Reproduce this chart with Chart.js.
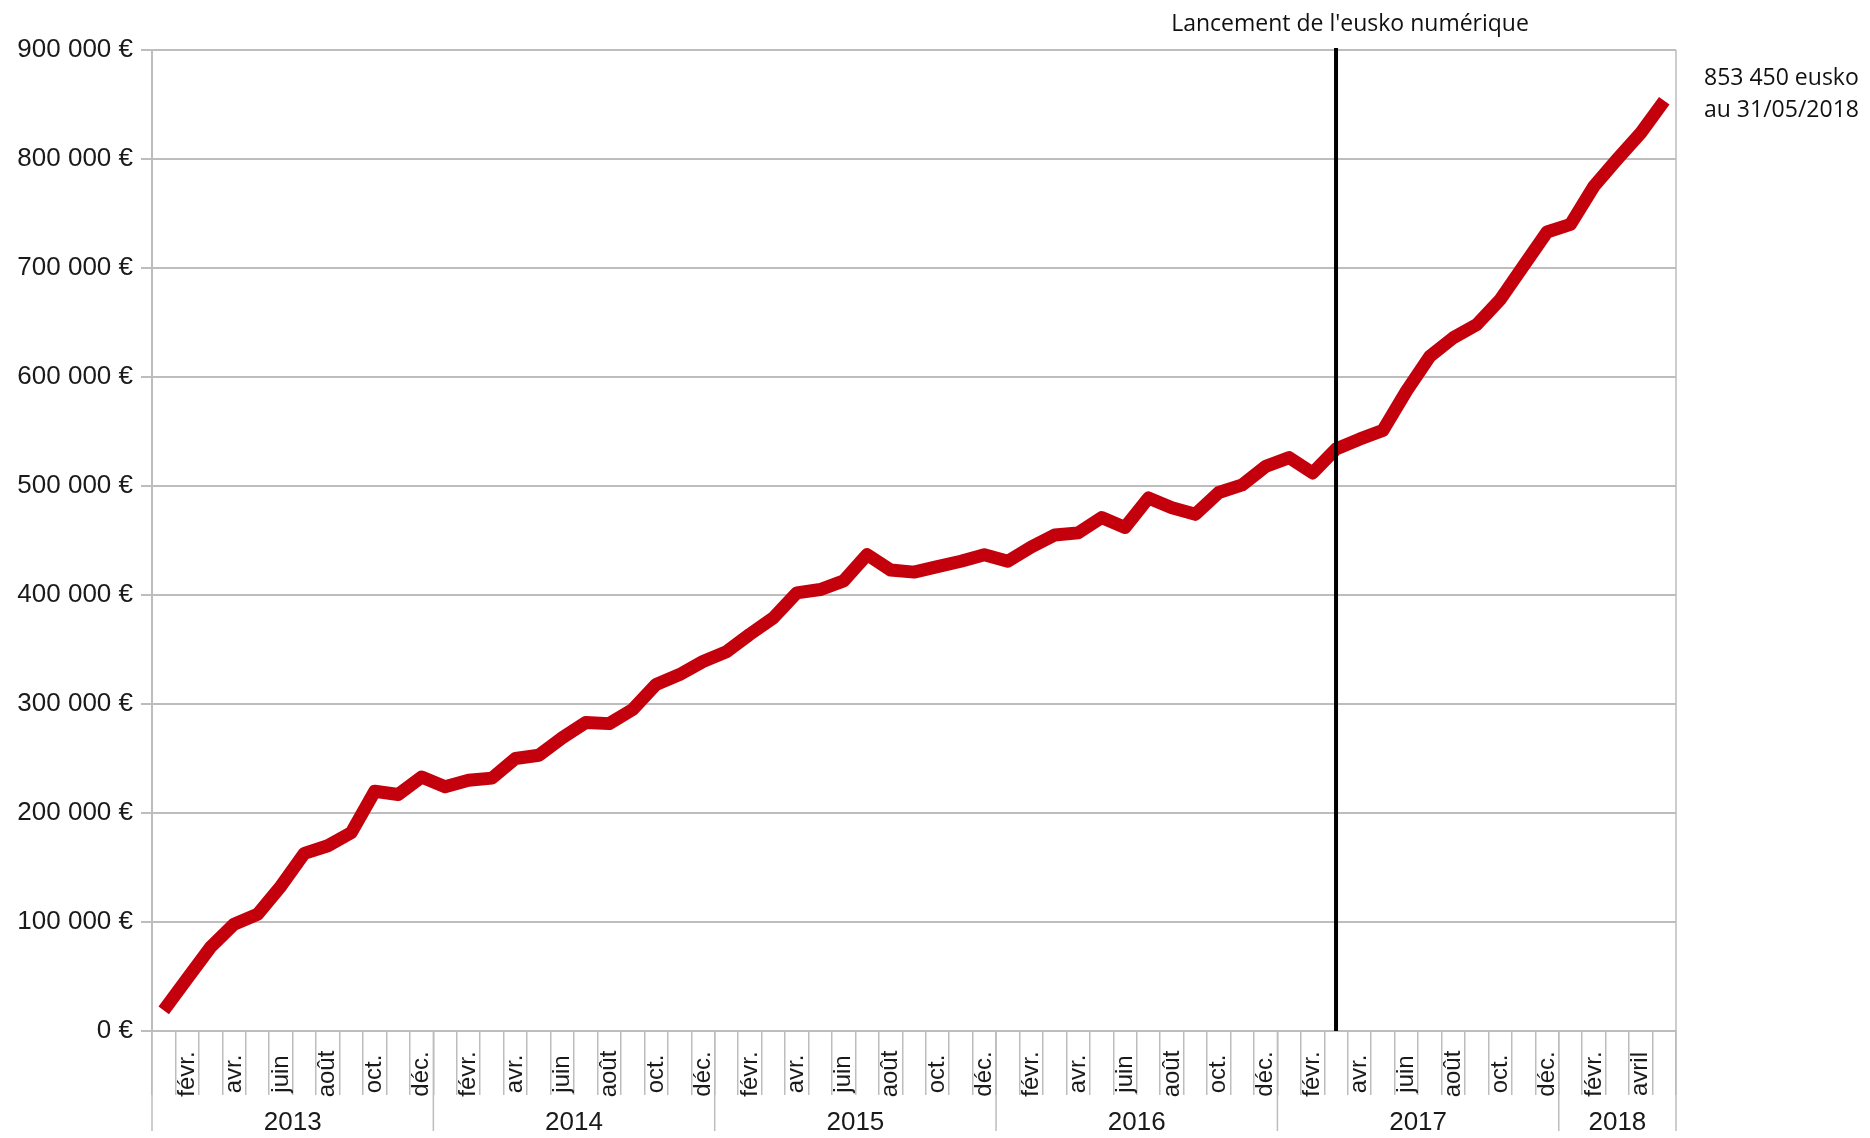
<!DOCTYPE html>
<html>
<head>
<meta charset="utf-8">
<script src="https://cdn.jsdelivr.net/npm/chart.js@4.4.1/dist/chart.umd.min.js"></script>
<style>
  html, body { margin: 0; padding: 0; background: #fff; }
  #wrap { width: 1870px; height: 1138px; }
</style>
</head>
<body>
<div id="wrap"><canvas id="euskoChart" width="1870" height="1138"></canvas></div>
<script>
// Categories
const years = ['2013', '2014', '2015', '2016', '2017', '2018'];
const monthNames = ['janv.', 'févr.', 'mars', 'avr.', 'mai', 'juin', 'juil.', 'août', 'sept.', 'oct.', 'nov.', 'déc.'];
const monthNames2018 = ['janv.', 'févr.', 'mars', 'avril', 'mai'];

// Eusko in circulation, end of each month
const eusko2013 = [19000, 48000, 77000, 98000, 107000, 133000, 163000, 170000, 182000, 220000, 217000, 233000];
const eusko2014 = [224000, 230000, 232000, 250000, 253000, 269000, 283000, 282000, 295000, 318000, 327000, 339000];
const eusko2015 = [348000, 364000, 379000, 402000, 405000, 413000, 437000, 423000, 421000, 426000, 431000, 437000];
const eusko2016 = [431000, 444000, 455000, 457000, 471000, 462000, 489000, 480000, 474000, 494000, 501000, 518000];
const eusko2017 = [526000, 512000, 534000, 543000, 551000, 587000, 619000, 636000, 648000, 671000, 702000, 733000];
const eusko2018 = [740000, 775000, 800000, 824000, 853450];

// Annotations
const launchIndex = 50; // mars 2017
const launchText = "Lancement de l'eusko numérique";
const finalText = ['853 450 eusko', 'au 31/05/2018'];

// build the category list + year for each month
const labels = [];
const yearOf = [];
const monthOf = [];
years.forEach((y, yi) => {
  const names = y === '2018' ? monthNames2018 : monthNames;
  names.forEach((m, mi) => {
    labels.push(m + ' ' + y);
    yearOf.push(yi);
    monthOf.push(mi);
  });
});
const values = [].concat(eusko2013, eusko2014, eusko2015, eusko2016, eusko2017, eusko2018);

const gridColor = '#bdbdbd';
const textColor = '#1a1a1a';
const axisFont = 'Liberation Sans, Arial, sans-serif';

function fmtEuro(v) {
  return String(v).replace(/\B(?=(\d{3})+(?!\d))/g, ' ') + ' €';
}

// draws the month / year labels under the axis, year separators, launch line and notes
const decorations = {
  id: 'decorations',
  afterDraw(chart) {
    const ctx = chart.ctx;
    const xs = chart.scales.x;
    const area = chart.chartArea;
    const bottom = 1131;

    ctx.save();
    // month labels (every other month), rotated
    ctx.fillStyle = textColor;
    ctx.font = '24px ' + axisFont;
    ctx.textAlign = 'center';
    ctx.textBaseline = 'middle';
    labels.forEach((lab, i) => {
      if (monthOf[i] % 2 !== 1) return;
      const name = yearOf[i] === 5 ? monthNames2018[monthOf[i]] : monthNames[monthOf[i]];
      ctx.save();
      ctx.translate(xs.getPixelForValue(i), area.bottom + 43);
      ctx.rotate(-Math.PI / 2);
      ctx.fillText(name, 0, 0);
      ctx.restore();
    });

    // year separators and year labels
    ctx.strokeStyle = gridColor;
    ctx.lineWidth = 1.5;
    ctx.font = '26px ' + axisFont;
    let start = 0;
    years.forEach((y, yi) => {
      let end = start;
      while (end < labels.length && yearOf[end] === yi) end++;
      const x0 = xs.getPixelForValue(start - 0.5);
      const x1 = xs.getPixelForValue(end - 0.5);
      ctx.beginPath();
      ctx.moveTo(x0, area.bottom);
      ctx.lineTo(x0, bottom);
      ctx.stroke();
      ctx.fillText(y, (x0 + x1) / 2, 1123);
      start = end;
    });
    // right frame line down to the bottom
    ctx.beginPath();
    ctx.moveTo(area.right, area.top);
    ctx.lineTo(area.right, bottom);
    ctx.stroke();

    // launch of the digital eusko
    const lx = xs.getPixelForValue(launchIndex);
    ctx.strokeStyle = '#000';
    ctx.lineWidth = 4;
    ctx.beginPath();
    ctx.moveTo(lx, area.top - 2);
    ctx.lineTo(lx, area.bottom);
    ctx.stroke();

    ctx.fillStyle = '#111';
    ctx.font = '23px "Open Sans", sans-serif';
    ctx.textAlign = 'center';
    ctx.fillText(launchText, lx + 14, 24);

    ctx.textAlign = 'left';
    ctx.fillText(finalText[0], area.right + 28, 78);
    ctx.fillText(finalText[1], area.right + 28, 110);
    ctx.restore();
  }
};

const ctx = document.getElementById('euskoChart').getContext('2d');
new Chart(ctx, {
  type: 'line',
  data: {
    labels: labels,
    datasets: [{
      label: 'Eusko',
      data: values,
      borderColor: '#c5000d',
      borderWidth: 13,
      borderJoinStyle: 'round',
      borderCapStyle: 'butt',
      pointRadius: 0,
      tension: 0,
      fill: false,
    }],
  },
  options: {
    responsive: false,
    animation: false,
    layout: {
      padding: { left: 15, right: 194, top: 50, bottom: 43 }
    },
    plugins: {
      legend: { display: false },
      tooltip: { enabled: false },
    },
    scales: {
      x: {
        type: 'category',
        offset: true,
        grid: {
          offset: true,
          drawOnChartArea: false,
          tickLength: 64,
          color: gridColor,
          lineWidth: 1.5,
        },
        border: { color: gridColor, width: 2 },
        ticks: { display: false },
        afterFit(scale) { scale.height = 64; },
      },
      y: {
        min: 0,
        max: 900000,
        ticks: {
          stepSize: 100000,
          color: textColor,
          padding: 8,
          font: { family: axisFont, size: 26 },
          callback: (v) => fmtEuro(v),
        },
        grid: {
          color: gridColor,
          lineWidth: 2,
          tickLength: 11,
        },
        border: { color: gridColor, width: 2 },
        afterFit(scale) { scale.width = 137; },
      },
    },
  },
  plugins: [decorations],
});
</script>
</body>
</html>
